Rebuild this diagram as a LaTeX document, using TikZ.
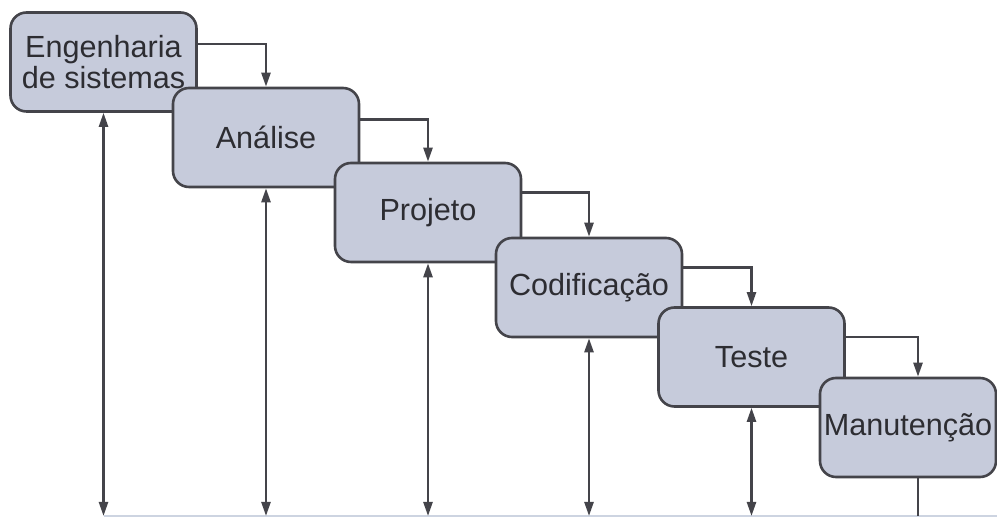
\documentclass[tikz,border=0pt]{standalone}
\usepackage{fontspec}
\setmainfont{Liberation Sans}
\usetikzlibrary{arrows.meta}

\definecolor{boxFill}{RGB}{198,203,219}
\definecolor{boxLine}{RGB}{68,68,74}
\definecolor{boxText}{RGB}{45,45,50}
\definecolor{baseLine}{RGB}{205,212,225}

\tikzset{
    phaseBox/.style={rectangle, rounded corners=8pt, draw=boxLine, line width=1.3pt,
        fill=boxFill, text=boxText, minimum width=93pt, minimum height=49.5pt,
        inner sep=0pt, align=center, font=\fontsize{15.3}{12.5}\selectfont},
    flowLine/.style={draw=boxLine, line width=1.2pt},
    tipArrow/.style={flowLine, -{Triangle[length=7pt,width=4.5pt]}},
    bothArrow/.style={flowLine, {Triangle[length=7pt,width=4.5pt]}-{Triangle[length=7pt,width=4.5pt]}}
}

\begin{document}
\begin{tikzpicture}[x=0.5pt, y=-0.5pt]
            \useasboundingbox (0,0) rectangle (997,517);
            \coordinate (bottomEdge) at (0,516);

            \node[phaseBox] (engBox) at (103.5,62) {Engenharia\\de sistemas};
            \node[phaseBox] (analiseBox) at (266,137.5) {Análise};
            \node[phaseBox] (projetoBox) at (428,212.5) {Projeto};
            \node[phaseBox] (codBox) at (589,287.5) {Codificação};
            \node[phaseBox] (testeBox) at (751.5,357) {Teste};
            \node[phaseBox, minimum width=88pt, inner xsep=1pt] (manutBox) at (908,427.5) {Manutenção};

            % faint base line at the bottom
            \draw[baseLine, line width=0.6pt] (engBox.south |- bottomEdge) -- (997,516);

            \draw[tipArrow] (engBox.north east) ++ (0,33) -| (analiseBox.north);
            \draw[tipArrow] (analiseBox.north east) ++ (0,33) -| (projetoBox.north);
            \draw[tipArrow] (projetoBox.north east) ++ (0,31) -| (codBox.north);
            \draw[tipArrow] (codBox.north east) ++ (0,31) -| (testeBox.north);
            \draw[tipArrow] (testeBox.north east) ++ (0,31) -| ([xshift=5pt]manutBox.north);

            \draw[bothArrow] (engBox.south) -- (engBox.south |- bottomEdge);
            \draw[bothArrow] (analiseBox.south) -- (analiseBox.south |- bottomEdge);
            \draw[bothArrow] (projetoBox.south) -- (projetoBox.south |- bottomEdge);
            \draw[bothArrow] (codBox.south) -- (codBox.south |- bottomEdge);
            \draw[bothArrow] (testeBox.south) -- (testeBox.south |- bottomEdge);
            \draw[flowLine] ([xshift=5pt]manutBox.south) -- ([xshift=5pt]manutBox.south |- bottomEdge);
        \end{tikzpicture}
\end{document}
